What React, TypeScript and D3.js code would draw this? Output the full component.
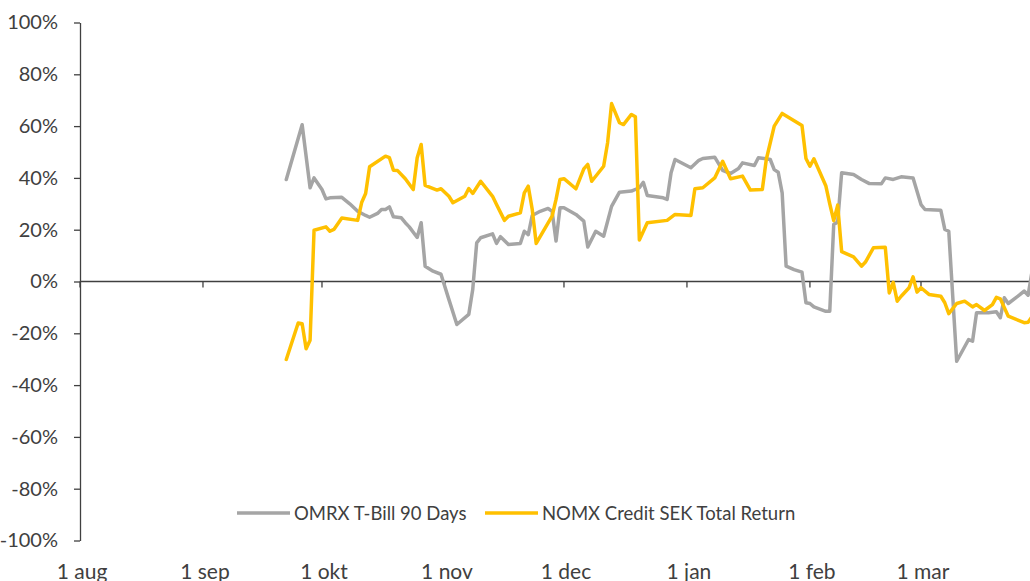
import { useEffect, useRef } from "react";
import * as d3 from "d3";

const width = 1030;
const height = 581;

const seriesNames = ["OMRX T-Bill 90 Days", "NOMX Credit SEK Total Return"];
const seriesColors = ["#A5A5A5", "#FFC000"];

const monthTicks = [
  "2022-08-01",
  "2022-09-01",
  "2022-10-01",
  "2022-11-01",
  "2022-12-01",
  "2023-01-01",
  "2023-02-01",
  "2023-03-01",
];
const monthLabels = ["1 aug", "1 sep", "1 okt", "1 nov", "1 dec", "1 jan", "1 feb", "1 mar"];
const yTicks = [-100, -80, -60, -40, -20, 0, 20, 40, 60, 80, 100];

// OMRX T-Bill 90 Days, %
const tBill: [string, number][] = [
  ["2022-09-22", 39.4], ["2022-09-26", 60.5], ["2022-09-28", 36.2], ["2022-09-29", 40],
  ["2022-10-01", 35.5], ["2022-10-02", 31.9], ["2022-10-03", 32.3], ["2022-10-06", 32.5],
  ["2022-10-08", 30], ["2022-10-10", 27.1], ["2022-10-12", 25.5], ["2022-10-13", 24.8],
  ["2022-10-15", 26.3], ["2022-10-16", 27.8], ["2022-10-17", 27.8], ["2022-10-18", 28.8],
  ["2022-10-19", 25], ["2022-10-21", 24.6], ["2022-10-22", 22.7], ["2022-10-23", 21.1],
  ["2022-10-25", 17], ["2022-10-26", 22.7], ["2022-10-27", 5.9], ["2022-10-29", 4],
  ["2022-10-31", 2.8], ["2022-11-02", -7], ["2022-11-04", -16.6], ["2022-11-07", -12.7],
  ["2022-11-08", -3.1], ["2022-11-09", 14.9], ["2022-11-10", 16.9], ["2022-11-13", 18.4],
  ["2022-11-14", 14.7], ["2022-11-15", 17.3], ["2022-11-17", 14.3], ["2022-11-20", 14.7],
  ["2022-11-21", 19.4], ["2022-11-22", 18.1], ["2022-11-23", 25.5], ["2022-11-25", 27.1],
  ["2022-11-27", 28.2], ["2022-11-28", 27.1], ["2022-11-29", 15.6], ["2022-11-30", 28.5],
  ["2022-12-01", 28.5], ["2022-12-04", 25.9], ["2022-12-06", 23.3], ["2022-12-07", 13.3],
  ["2022-12-09", 19.4], ["2022-12-11", 17.5], ["2022-12-13", 29], ["2022-12-15", 34.5],
  ["2022-12-18", 34.9], ["2022-12-20", 36.2], ["2022-12-21", 38.3], ["2022-12-22", 33.2],
  ["2022-12-26", 32.3], ["2022-12-27", 31.7], ["2022-12-28", 42], ["2022-12-29", 47.1],
  ["2023-01-02", 43.9], ["2023-01-04", 46.8], ["2023-01-05", 47.5], ["2023-01-08", 48],
  ["2023-01-10", 42.9], ["2023-01-12", 41.7], ["2023-01-14", 43.6], ["2023-01-15", 45.8],
  ["2023-01-18", 44.8], ["2023-01-19", 47.8], ["2023-01-21", 47.4], ["2023-01-22", 47.1],
  ["2023-01-23", 43.2], ["2023-01-24", 42.2], ["2023-01-25", 34.2], ["2023-01-26", 5.9],
  ["2023-01-28", 4.6], ["2023-01-30", 3.6], ["2023-01-31", -8.2], ["2023-02-01", -8.5],
  ["2023-02-02", -9.8], ["2023-02-05", -11.5], ["2023-02-06", -11.5], ["2023-02-07", 22],
  ["2023-02-08", 23], ["2023-02-09", 42], ["2023-02-12", 41.3], ["2023-02-14", 39.4],
  ["2023-02-16", 37.8], ["2023-02-19", 37.7], ["2023-02-20", 40], ["2023-02-22", 39.4],
  ["2023-02-24", 40.4], ["2023-02-27", 40], ["2023-03-01", 29.7], ["2023-03-02", 27.8],
  ["2023-03-06", 27.5], ["2023-03-07", 20.1], ["2023-03-08", 19.4], ["2023-03-10", -30.8],
  ["2023-03-13", -22.4], ["2023-03-14", -23], ["2023-03-15", -12.1], ["2023-03-18", -12.1],
  ["2023-03-20", -11.7], ["2023-03-21", -14], ["2023-03-22", -6.3], ["2023-03-23", -8.5],
  ["2023-03-26", -5], ["2023-03-27", -3.7], ["2023-03-28", -5.3], ["2023-03-29", 4],
];

// NOMX Credit SEK Total Return, %
const credit: [string, number][] = [
  ["2022-09-22", -30.1], ["2022-09-25", -16], ["2022-09-26", -16.3], ["2022-09-27", -26],
  ["2022-09-28", -22.7], ["2022-09-29", 19.8], ["2022-10-02", 21.1], ["2022-10-03", 19.4],
  ["2022-10-04", 20.1], ["2022-10-06", 24.5], ["2022-10-10", 23.6], ["2022-10-11", 30.5],
  ["2022-10-12", 34], ["2022-10-13", 44.3], ["2022-10-17", 48.4], ["2022-10-18", 47.8],
  ["2022-10-19", 43], ["2022-10-20", 42.9], ["2022-10-22", 39.7], ["2022-10-24", 35.5],
  ["2022-10-25", 47.8], ["2022-10-26", 52.9], ["2022-10-27", 37.1], ["2022-10-30", 35.3],
  ["2022-10-31", 35.8], ["2022-11-02", 32.9], ["2022-11-03", 30.4], ["2022-11-06", 32.9],
  ["2022-11-07", 35.9], ["2022-11-08", 34], ["2022-11-10", 38.7], ["2022-11-13", 32.9],
  ["2022-11-14", 29.7], ["2022-11-16", 23.6], ["2022-11-17", 25.2], ["2022-11-20", 26.5],
  ["2022-11-21", 34.2], ["2022-11-22", 36.8], ["2022-11-23", 27.8], ["2022-11-24", 14.7],
  ["2022-11-28", 25.2], ["2022-11-29", 31.7], ["2022-11-30", 39.4], ["2022-12-01", 39.7],
  ["2022-12-04", 35.8], ["2022-12-06", 43.5], ["2022-12-07", 45.2], ["2022-12-08", 38.7],
  ["2022-12-11", 44.5], ["2022-12-12", 53.6], ["2022-12-13", 68.7], ["2022-12-15", 61.3],
  ["2022-12-16", 60.6], ["2022-12-18", 64.5], ["2022-12-19", 63.6], ["2022-12-20", 16],
  ["2022-12-22", 22.7], ["2022-12-27", 23.6], ["2022-12-29", 25.9], ["2023-01-02", 25.5],
  ["2023-01-03", 35.8], ["2023-01-05", 36.2], ["2023-01-08", 40], ["2023-01-10", 46.4],
  ["2023-01-12", 39.7], ["2023-01-15", 40.7], ["2023-01-17", 35.3], ["2023-01-20", 35.5],
  ["2023-01-21", 47.1], ["2023-01-23", 60], ["2023-01-25", 64.9], ["2023-01-30", 60.2],
  ["2023-01-31", 47.5], ["2023-02-01", 44.5], ["2023-02-02", 47.4], ["2023-02-05", 37],
  ["2023-02-06", 30], ["2023-02-07", 23.5], ["2023-02-08", 29.5], ["2023-02-09", 11.5],
  ["2023-02-12", 9.5], ["2023-02-14", 5.9], ["2023-02-15", 7.5], ["2023-02-17", 13],
  ["2023-02-20", 13.2], ["2023-02-21", -4.4], ["2023-02-22", -0.3], ["2023-02-23", -7.6],
  ["2023-02-24", -5.7], ["2023-02-26", -2.4], ["2023-02-27", 1.8], ["2023-02-28", -4.1],
  ["2023-03-01", -2.4], ["2023-03-03", -5], ["2023-03-06", -5.7], ["2023-03-07", -8.2],
  ["2023-03-08", -12.4], ["2023-03-10", -8.5], ["2023-03-12", -7.6], ["2023-03-14", -9.8],
  ["2023-03-15", -8.9], ["2023-03-17", -11.2], ["2023-03-19", -8.9], ["2023-03-20", -6.1],
  ["2023-03-21", -6.7], ["2023-03-23", -13.4], ["2023-03-27", -15.9], ["2023-03-28", -15.7],
  ["2023-03-29", -13.5],
];

const parse = d3.utcParse("%Y-%m-%d");
const font = "Lato, 'Open Sans', sans-serif";
const textColor = "#404040";
const axisColor = "#404040";

export default function App() {
  const svgRef = useRef<SVGSVGElement>(null);

  useEffect(() => {
    if (!svgRef.current) return;
    const svg = d3.select(svgRef.current);
    svg.selectAll("*").remove();

    const x = d3
      .scaleUtc()
      .domain([parse("2022-08-01")!, parse("2023-03-01")!])
      .range([80, 921]);
    const y = d3.scaleLinear().domain([-100, 100]).range([540.5, 22.5]);

    // y axis
    const yAxis = svg
      .append("g")
      .attr("transform", `translate(80,0)`)
      .call(
        d3
          .axisLeft(y)
          .tickValues(yTicks)
          .tickSize(6)
          .tickSizeOuter(0)
          .tickPadding(16)
          .tickFormat((d) => `${d}%`),
      );
    yAxis.select("path.domain").attr("stroke", axisColor).attr("stroke-width", 1.3);
    yAxis.selectAll("line").attr("stroke", axisColor).attr("stroke-width", 1.3);
    yAxis
      .selectAll("text")
      .attr("fill", textColor)
      .attr("font-family", font)
      .attr("font-size", 20);

    // x axis on the zero line
    const y0 = y(0);
    svg
      .append("line")
      .attr("x1", x.range()[0])
      .attr("x2", width)
      .attr("y1", y0)
      .attr("y2", y0)
      .attr("stroke", axisColor)
      .attr("stroke-width", 1.3);

    const months = monthTicks.map((d) => parse(d)!);
    svg
      .append("g")
      .selectAll("line")
      .data(months)
      .join("line")
      .attr("x1", (d) => x(d))
      .attr("x2", (d) => x(d))
      .attr("y1", y0)
      .attr("y2", y0 + 6)
      .attr("stroke", axisColor)
      .attr("stroke-width", 1.3);

    svg
      .append("g")
      .selectAll("text")
      .data(months)
      .join("text")
      .attr("x", (d) => x(d) + 2)
      .attr("y", 579)
      .attr("text-anchor", "middle")
      .attr("fill", textColor)
      .attr("font-family", font)
      .attr("font-size", 21)
      .text((_d, i) => monthLabels[i]);

    // series
    const line = d3
      .line<[string, number]>()
      .x((d) => x(parse(d[0])!))
      .y((d) => y(d[1]));

    [tBill, credit].forEach((data, i) => {
      svg
        .append("path")
        .datum(data)
        .attr("fill", "none")
        .attr("stroke", seriesColors[i])
        .attr("stroke-width", 3.5)
        .attr("stroke-linejoin", "round")
        .attr("stroke-linecap", "round")
        .attr("d", line);
    });

    // legend
    const legendX = [237, 485];
    const legendY = 513;
    seriesNames.forEach((name, i) => {
      svg
        .append("line")
        .attr("x1", legendX[i])
        .attr("x2", legendX[i] + 53)
        .attr("y1", legendY)
        .attr("y2", legendY)
        .attr("stroke", seriesColors[i])
        .attr("stroke-width", 3.5);
      svg
        .append("text")
        .attr("x", legendX[i] + 57)
        .attr("y", legendY)
        .attr("dy", "0.36em")
        .attr("fill", textColor)
        .attr("font-family", font)
        .attr("font-size", 18.5)
        .text(name);
    });
  }, []);

  return (
    <div style={{ position: "absolute", left: 0, top: 0, width, height, overflow: "hidden", background: "#fff" }}>
      <svg ref={svgRef} width={width} height={height} style={{ display: "block" }} />
    </div>
  );
}
